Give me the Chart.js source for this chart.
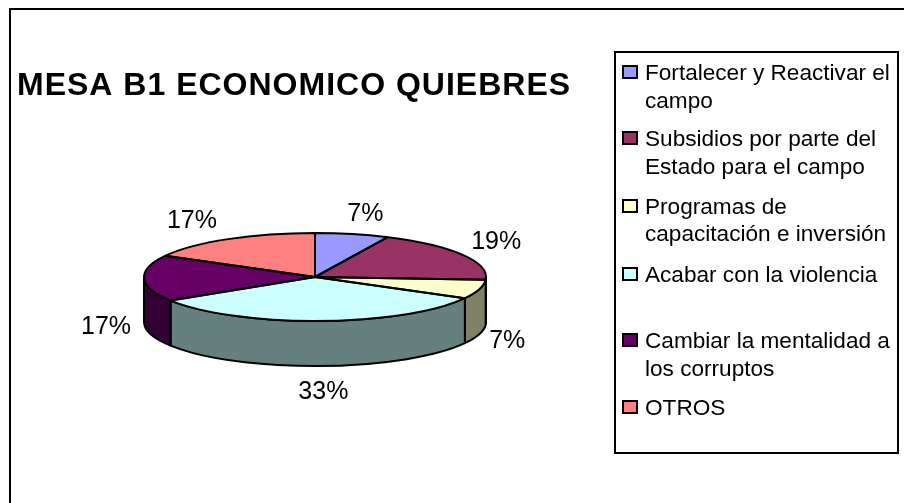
<!DOCTYPE html>
<html><head><meta charset="utf-8">
<style>html,body{margin:0;padding:0;background:#fff}#w{position:relative;width:904px;height:503px}</style>
<script src="https://cdn.jsdelivr.net/npm/chart.js@4"></script>
</head><body><div id="w"><canvas id="c" width="904" height="503"></canvas></div>
<script>
const titleText = 'MESA B1 ECONOMICO QUIEBRES';
const categories = ['Fortalecer y Reactivar el campo','Subsidios por parte del Estado para el campo','Programas de capacitación e inversión','Acabar con la violencia','Cambiar la mentalidad a los corruptos','OTROS'];
const legendLines = [['Fortalecer y Reactivar el','campo'],['Subsidios por parte del','Estado para el campo'],['Programas de','capacitación e inversión'],['Acabar con la violencia'],['Cambiar la mentalidad a','los corruptos'],['OTROS']];
const values = [7,19,7,33,17,17];
const topColors = ['#9999FF','#993366','#FFFFCC','#CCFFFF','#660066','#FF8080'];
const wallColors = ['#4C4C80','#4C1933','#808066','#668080','#330033','#804040'];
const labelOffsets = [[13,-20],[34,-12],[28,52],[3,71],[-38,49],[-36,-18]];
const legendBaselines = [[80,108],[146,174],[214,241],[282],[348,376],[415]];

const CX=315, CY=277, RX=171, RY=44, DEPTH=45, FONT='"Liberation Sans", Arial, sans-serif';
const tilt = RY/RX;

function project(ctx, arc){
  ctx.translate(CX, CY);
  ctx.scale(RX/arc.outerRadius, tilt*RX/arc.outerRadius);
  ctx.translate(-arc.x, -arc.y);
}
const pie3d = {
  id:'pie3d',
  beforeDraw(chart){
    const c=chart.ctx;
    c.save();
    c.fillStyle='#fff'; c.fillRect(0,0,904,503);
    c.strokeStyle='#000'; c.lineWidth=2;
    c.strokeRect(10,9,1000,1000);
    c.strokeRect(615,52,283,401);
    c.restore();
  },
  beforeDatasetDraw(chart){
    const c=chart.ctx, arcs=chart.getDatasetMeta(0).data, p0=arcs[0];
    arcs.forEach((a,i)=>{
      const from=Math.max(a.startAngle,0), to=Math.min(a.endAngle,Math.PI);
      if(to<=from) return;
      c.save();
      c.beginPath();
      c.ellipse(CX,CY,RX,RY,0,from,to);
      c.lineTo(CX+RX*Math.cos(to),CY+RY*Math.sin(to)+DEPTH);
      c.ellipse(CX,CY+DEPTH,RX,RY,0,to,from,true);
      c.closePath();
      c.fillStyle=wallColors[i]; c.fill();
      c.strokeStyle='#000'; c.lineWidth=2; c.lineJoin='round'; c.stroke();
      c.restore();
    });
    c.save();
    project(c,p0);
  },
  afterDatasetDraw(chart){
    const c=chart.ctx, arcs=chart.getDatasetMeta(0).data;
    c.restore();
    arcs.forEach(a=>{
      c.save();
      c.beginPath();
      c.moveTo(CX,CY);
      c.ellipse(CX,CY,RX,RY,0,a.startAngle,a.endAngle);
      c.closePath();
      c.strokeStyle='#000'; c.lineWidth=2; c.lineJoin='round'; c.stroke();
      c.restore();
    });
    c.save();
    c.fillStyle='#000'; c.font='25px '+FONT; c.textAlign='center'; c.textBaseline='middle';
    arcs.forEach((a,i)=>{
      const m=(a.startAngle+a.endAngle)/2;
      c.fillText(values[i]+'%',CX+RX*Math.cos(m)+labelOffsets[i][0],CY+RY*Math.sin(m)+labelOffsets[i][1]);
    });
    c.restore();
    c.save();
    c.fillStyle='#000'; c.font='bold 32px '+FONT; c.letterSpacing='1px'; c.textAlign='left'; c.textBaseline='alphabetic';
    c.fillText(titleText,17,95);
    c.restore();
    c.save();
    c.font='22.6px '+FONT; c.textAlign='left'; c.textBaseline='alphabetic';
    legendLines.forEach((ls,i)=>{
      const y=legendBaselines[i][0];
      c.fillStyle=topColors[i]; c.strokeStyle='#000'; c.lineWidth=2;
      c.fillRect(623,y-14,14,12); c.strokeRect(623,y-14,14,12);
      c.fillStyle='#000';
      ls.forEach((t,j)=>c.fillText(t,645,legendBaselines[i][j]));
    });
    c.restore();
  }
};
new Chart(document.getElementById('c'),{
  type:'pie',
  data:{labels:categories,datasets:[{data:values,backgroundColor:topColors,borderWidth:0}]},
  options:{
    responsive:false,animation:false,rotation:0,
    layout:{padding:{left:144,right:417,top:79.5,bottom:79.5}},
    plugins:{legend:{display:false},title:{display:false},tooltip:{enabled:false}}
  },
  plugins:[pie3d]
});
</script></body></html>
